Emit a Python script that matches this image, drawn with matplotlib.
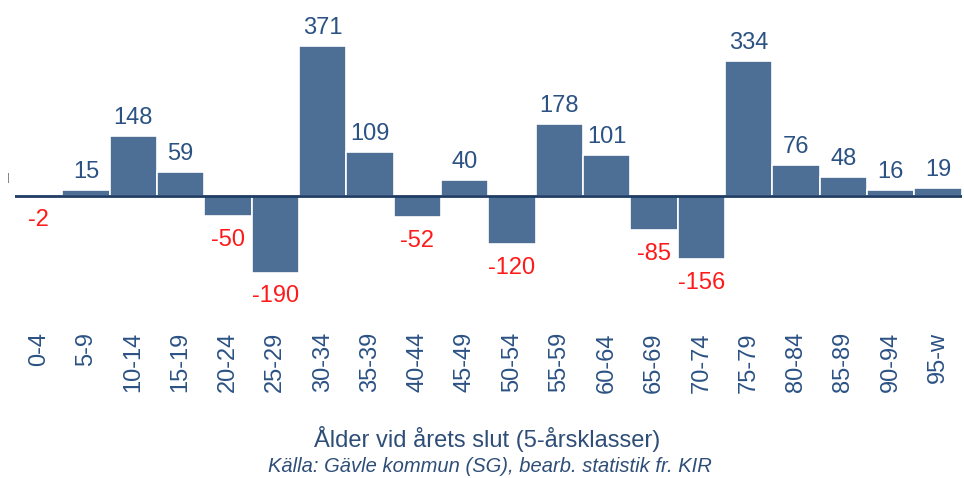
import matplotlib.pyplot as plt

plt.rcParams['font.family'] = ['Liberation Sans', 'DejaVu Sans']

# Data: net change per 5-year age class
age_classes = ["0-4", "5-9", "10-14", "15-19", "20-24", "25-29", "30-34", "35-39",
               "40-44", "45-49", "50-54", "55-59", "60-64", "65-69", "70-74",
               "75-79", "80-84", "85-89", "90-94", "95-w"]
values = [-2, 15, 148, 59, -50, -190, 371, 109, -52, 40,
          -120, 178, 101, -85, -156, 334, 76, 48, 16, 19]

bar_color = "#4d6f96"
text_blue = "#2b5283"
neg_red = "#ff1a1a"

fig = plt.figure(figsize=(9.64, 4.78), dpi=100)
ax = fig.add_axes([0.0156, 0.311, 0.982, 0.634])

x = range(len(values))
ax.bar(x, values, width=1.0, color=bar_color, edgecolor="white", linewidth=1.2)
ax.axhline(0, color="#1e3c64", linewidth=2, zorder=3)

for i, v in enumerate(values):
    if v >= 0:
        ax.annotate(str(v), (i, v), xytext=(0, 5), textcoords="offset points",
                    ha="center", va="bottom", fontsize=17, color=text_blue)
    else:
        ax.annotate(str(v), (i, v), xytext=(0, -9), textcoords="offset points",
                    ha="center", va="top", fontsize=17, color=neg_red)

ax.set_xlim(-0.5, len(values) - 0.5)
ax.set_ylim(-330, 420)
ax.set_xticks(list(x))
ax.set_xticklabels(age_classes, rotation=90, fontsize=17, color=text_blue)
ax.tick_params(axis="x", length=0, pad=2)
ax.set_yticks([])
for s in ax.spines.values():
    s.set_visible(False)

# small leftover tick mark at the left edge
fig.text(0.009, 0.628, "|", fontsize=8, color="#777777", ha="center", va="center")

fig.text(0.505, 0.082, "Ålder vid årets slut (5-årsklasser)", ha="center",
         va="center", fontsize=17, color="#2e4e78")
fig.text(0.508, 0.025, "Källa: Gävle kommun (SG), bearb. statistik fr. KIR", ha="center",
         va="center", fontsize=14.5, style="italic", color="#2e4e78")

fig.savefig("out.png", dpi=100)
